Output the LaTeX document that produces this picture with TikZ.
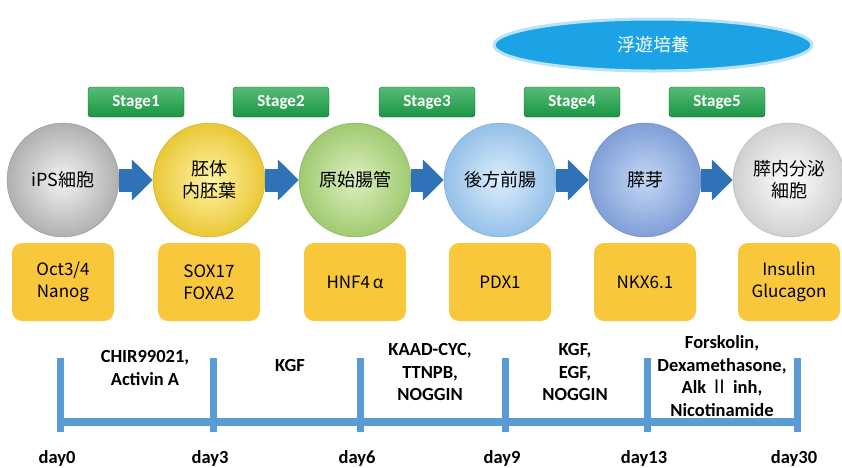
\documentclass[tikz,border=0pt]{standalone}
\usepackage{fontspec}
\setmainfont{Carlito}
\newfontfamily\jp{Noto Sans CJK JP}
\usetikzlibrary{shapes.geometric,arrows.meta}

\definecolor{arrowblue}{HTML}{2F72B8}
\definecolor{lineblue}{HTML}{5B9BD5}
\definecolor{markergold}{HTML}{F9C73B}
\definecolor{stagegreen}{HTML}{1DA64A}
\definecolor{floatblue}{HTML}{1CA3E5}
\definecolor{ipsin}{HTML}{F2F2F2}
\definecolor{ipsout}{HTML}{B0B0B0}
\definecolor{deIn}{HTML}{FFF4A8}
\definecolor{deOut}{HTML}{E9C836}
\definecolor{gtIn}{HTML}{DDEFC0}
\definecolor{gtOut}{HTML}{A0CA70}
\definecolor{pfIn}{HTML}{DCEEFC}
\definecolor{pfOut}{HTML}{94C0E8}
\definecolor{pbIn}{HTML}{C4D6F3}
\definecolor{pbOut}{HTML}{809FD8}
\definecolor{ecIn}{HTML}{FFFFFF}
\definecolor{ecOut}{HTML}{D0D0D0}

\begin{document}
\begin{tikzpicture}[x=1pt,y=-1pt,
    cell/.style args={#1/#2}{ellipse,minimum width=112pt,minimum height=114pt,inner sep=0pt,
        inner color=#1,outer color=#2,draw=#2!85!black,line width=0.4pt,align=center,
        font=\jp\fontsize{18}{22}\selectfont},
    flow/.style={draw=arrowblue,line width=23pt,-{Triangle[width=40pt,length=21pt]}},
    stagebox/.style={rectangle,rounded corners=3pt,minimum width=96pt,minimum height=30pt,
        top color=stagegreen!75!white,bottom color=stagegreen!90!black,draw=stagegreen!60!black,
        text=white,font=\bfseries\fontsize{17}{20}\selectfont},
    marker/.style={rectangle,rounded corners=10pt,fill=markergold,minimum width=102pt,
        minimum height=78pt,align=center,font=\jp\fontsize{17}{22}\selectfont},
    agent/.style={align=center,font=\bfseries\fontsize{18.5}{22.5}\selectfont},
    daylabel/.style={font=\bfseries\fontsize{18.5}{22}\selectfont},
    bar/.style={draw=lineblue,line width=8pt},
    tick/.style={draw=lineblue,line width=7pt}]

    \useasboundingbox (0,0) rectangle (842,467);

    \node[ellipse,fill=floatblue,draw=floatblue!30,line width=3pt,minimum width=318pt,
        minimum height=52pt,text=white,font=\jp\fontsize{18}{20}\selectfont] (float) at (653,45) {浮遊培養};

    \foreach \i/\x in {1/136,2/281,3/427,4/572,5/717}
        \node[stagebox] (s\i) at (\x,102) {Stage\i};

    % cells
    \node[cell={ipsin/ipsout}] (c0) at (63,180) {iPS細胞};
    \node[cell={deIn/deOut}] (c1) at (209,180) {胚体\\内胚葉};
    \node[cell={gtIn/gtOut}] (c2) at (355,180) {原始腸管};
    \node[cell={pfIn/pfOut}] (c3) at (500,180) {後方前腸};
    \node[cell={pbIn/pbOut}] (c4) at (645,180) {膵芽};
    \node[cell={ecIn/ecOut}] (c5) at (789,180) {膵内分泌\\細胞};

    \foreach \a/\b in {c0/c1,c1/c2,c2/c3,c3/c4,c4/c5}
        \draw[flow] (\a) -- (\b);

    % markers
    \node[marker] (m0) at (63,282) {Oct3/4\\Nanog};
    \node[marker] (m1) at (209,282) {SOX17\\FOXA2};
    \node[marker] (m2) at (355,282) {HNF4\,α};
    \node[marker] (m3) at (500,282) {PDX1};
    \node[marker] (m4) at (645,282) {NKX6.1};
    \node[marker] (m5) at (789,282) {Insulin\\Glucagon};

    % timeline
    \foreach \d/\x in {0/60,3/213,6/360,9/505,13/647,30/797}
    {
        \coordinate (t\d) at (\x,422);
        \coordinate (top\d) at (\x,358);
        \coordinate (bot\d) at (\x,432);
        \draw[tick] (top\d) -- (bot\d);
        \node[daylabel] (d\d) at (\x-3,458) {day\d};
    }
    \draw[bar] (t0) -- (t30);

    \node[agent] (a1) at (145,368) {CHIR99021,\\Activin A};
    \node[agent] (a2) at (290,365) {KGF};
    \node[agent] (a3) at (430,372) {KAAD-CYC,\\TTNPB,\\NOGGIN};
    \node[agent] (a4) at (575,372) {KGF,\\EGF,\\NOGGIN};
    \node[agent] (a5) at (722,376) {Forskolin,\\Dexamethasone,\\Alk {\jp\mdseries Ⅱ} inh,\\Nicotinamide};
\end{tikzpicture}
\end{document}
